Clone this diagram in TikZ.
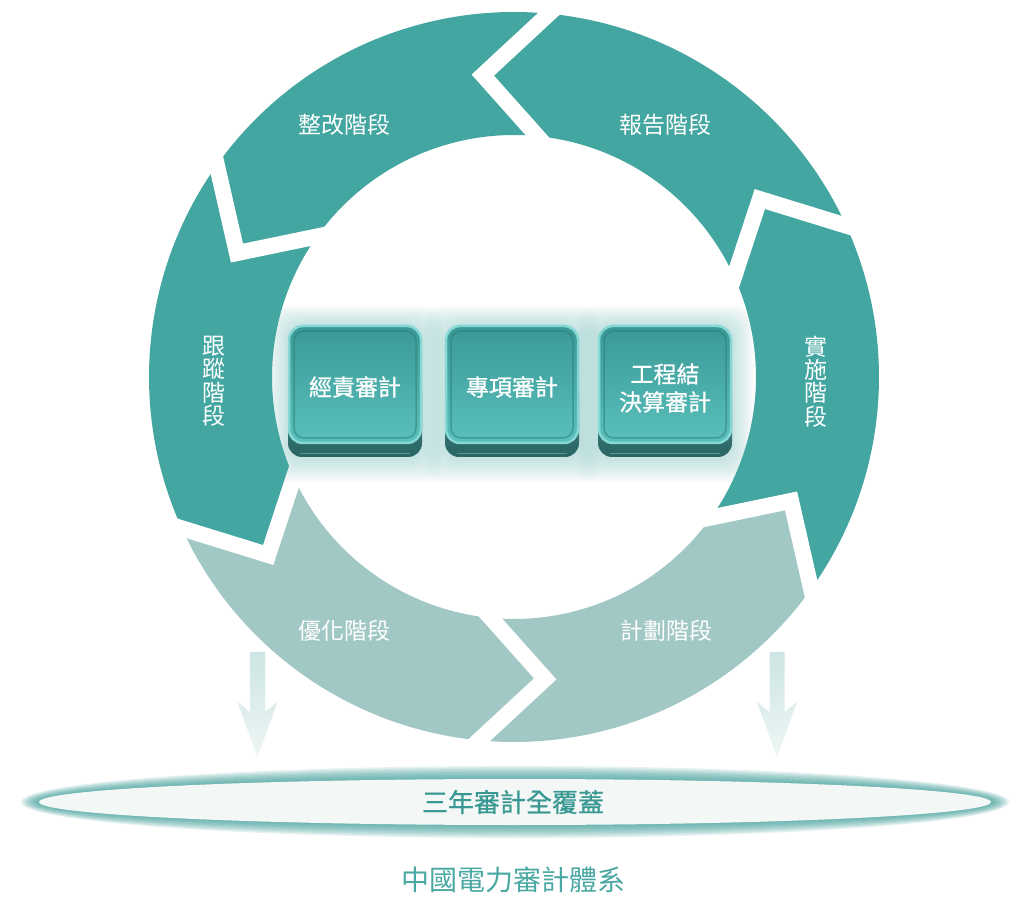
\documentclass[tikz,border=0pt]{standalone}
\usepackage{fontspec}
\newfontfamily\cjk{Noto Sans CJK TC}
\newfontfamily\cjkm[FakeBold=0.8]{Noto Sans CJK TC}
\usetikzlibrary{calc}
\definecolor{segdarkc}{HTML}{43A6A1}
\definecolor{seglightc}{HTML}{A1C8C5}
\definecolor{glowc}{HTML}{4FB0AB}
\definecolor{sidetop}{HTML}{448F8C}
\definecolor{sidebot}{HTML}{2A6562}
\definecolor{facetop}{HTML}{3A9996}
\definecolor{facebot}{HTML}{5AC0BC}
\definecolor{rimc}{HTML}{86D8D4}
\definecolor{innerdark}{HTML}{2E7C79}
\definecolor{arrtop}{HTML}{CCE5E3}
\definecolor{arrbot}{HTML}{EEF6F5}
\definecolor{ringc}{HTML}{3E9E99}
\definecolor{ellfill}{HTML}{F3F8F7}
\definecolor{covertext}{HTML}{3A9893}
\definecolor{titletext}{HTML}{4AA8A3}
\newcommand\auditbox[1]{%
  \foreach \g in {1,...,12}{
    \fill[glowc, opacity=0.028, rounded corners=18pt]
      (#1-67-\g*1.8, 441-\g*2.0-2) rectangle (#1+67+\g*1.8, 573+\g*1.6);
  }
  \shade[top color=sidetop, bottom color=sidebot, rounded corners=14pt]
    (#1-67,441) rectangle (#1+67,520);
  \draw[rimc, opacity=0.45, line width=1pt] (#1-55,444) -- (#1+55,444);
  \shade[top color=facetop, bottom color=facebot, rounded corners=14pt,
         draw=rimc, line width=2.5pt]
    (#1-66,455) rectangle (#1+66,572);
  \draw[innerdark, opacity=0.55, line width=1.5pt, rounded corners=10pt]
    (#1-61,460) rectangle (#1+61,567);
}
\begin{document}
\begin{tikzpicture}[x=1pt,y=1pt,
  gapline/.style={white, line width=16pt, line join=miter},
  stagelabel/.style={font=\cjk\fontsize{23}{23.4}\selectfont, text=white,
                     inner sep=0pt, align=center},
  boxlabel/.style={font=\cjkm\fontsize{23}{28}\selectfont, text=white,
                   inner sep=0pt, align=center},
  downarrow/.style={top color=arrtop, bottom color=arrbot}]
\useasboundingbox (0,0) rectangle (1010,898);
\fill[white] (0,0) rectangle (1010,898);

% ---------- ring of six chevron segments ----------
\begin{scope}[shift={(514,521)}]
  \foreach \a/\c in {24.5/segdarkc,84.5/segdarkc,144.5/segdarkc,
                     204.5/seglightc,264.5/seglightc,324.5/segdarkc}{
    \pgfmathsetmacro\b{\a+60}
    \pgfmathsetmacro\ah{\a+11.4}
    \pgfmathsetmacro\bh{\b+11.4}
    \fill[fill=\c] (\a:365) arc[start angle=\a, end angle=\b, radius=365]
      -- (\bh:303.5) -- (\b:242) arc[start angle=\b, end angle=\a, radius=242]
      -- (\ah:303.5) -- cycle;
  }
  \foreach \a in {24.5,84.5,144.5,204.5,264.5,324.5}{
    \pgfmathsetmacro\ah{\a+11.4}
    \draw[gapline] ($(\ah:303.5)!1.35!(\a:365)$) -- (\ah:303.5)
      -- ($(\ah:303.5)!1.35!(\a:242)$);
  }
\end{scope}

% ---------- stage labels ----------
\node[stagelabel] (baogao)  at (665,773) {報告階段};
\node[stagelabel] (zhenggai) at (344,773) {整改階段};
\node[stagelabel] (youhua)  at (344,267) {優化階段};
\node[stagelabel] (jihua)   at (666,267) {計劃階段};
\node[stagelabel] (genzong) at (214,516.5) {跟\\蹤\\階\\段};
\node[stagelabel] (shishi)  at (816,516.5) {實\\施\\階\\段};

% ---------- centre boxes ----------
\auditbox{355}
\auditbox{512}
\auditbox{665}
\node[boxlabel] (jingze)   at (355,511) {經責審計};
\node[boxlabel] (zhuanxiang) at (512,511) {專項審計};
\node[boxlabel] (gongcheng) at (665,510) {工程結\\決算審計};

% ---------- down arrows ----------
\foreach \cx in {257.5,777}{
  \shade[downarrow] (\cx-7.5,246) -- (\cx+7.5,246) -- (\cx+7.5,186)
    -- (\cx+20,196) -- (\cx,141) -- (\cx-20,196) -- (\cx-7.5,186) -- cycle;
}

% ---------- coverage ellipse ----------
\foreach \i in {0,...,9}{
  \fill[ringc, opacity=0.13] (515,96) ellipse [x radius=476+2*\i, y radius=23+1.45*\i];
}
\fill[ellfill] (515,96) ellipse [x radius=476, y radius=23];
\node[font=\cjkm\fontsize{26}{26}\selectfont, text=covertext, inner sep=0pt]
  (cover) at (513,96) {三年審計全覆蓋};

% ---------- title ----------
\node[font=\cjk\fontsize{28}{28}\selectfont, text=titletext, inner sep=0pt]
  (title) at (513,18) {中國電力審計體系};
\end{tikzpicture}
\end{document}
